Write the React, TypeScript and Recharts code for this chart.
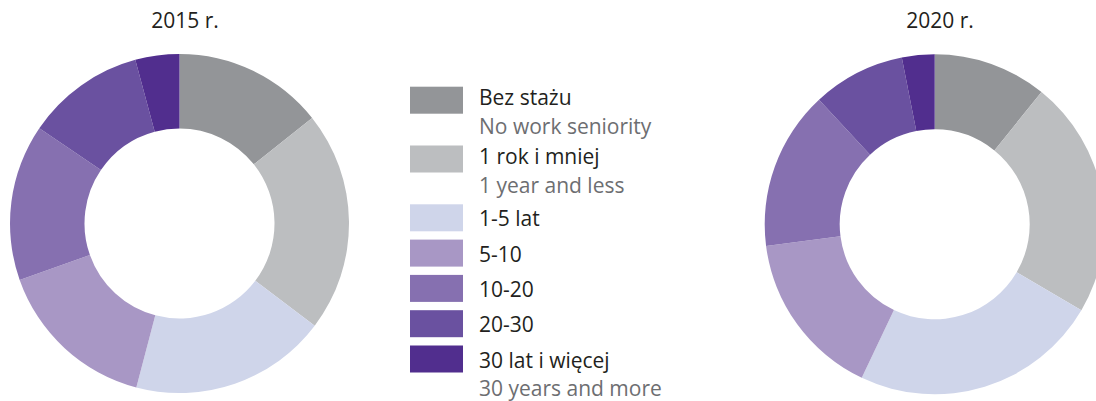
import { PieChart, Pie, Cell } from 'recharts';

const categories = ['Bez stażu', '1 rok i mniej', '1-5 lat', '5-10', '10-20', '20-30', '30 lat i więcej'];
const categoriesEn = ['No work seniority', '1 year and less', '', '', '', '', '30 years and more'];
const values2015 = [14.3, 21.0, 18.8, 15.5, 14.9, 11.3, 4.2];
const values2020 = [10.8, 22.6, 23.6, 15.9, 15.1, 8.8, 3.1];
const colors = ['#939598', '#bcbec0', '#cfd5ea', '#a897c5', '#8670b0', '#6a51a0', '#512e8e'];
const titles = ['2015 r.', '2020 r.'];

const W = 1096;
const H = 401;
const font = '"Open Sans", sans-serif';

const data2015 = categories.map((name, i) => ({ name, value: values2015[i] }));
const data2020 = categories.map((name, i) => ({ name, value: values2020[i] }));

// legend rows: taller when there is an english line under the polish one
let y = 86.7;
const legendRows = categories.map((name, i) => {
  const row = { name, en: categoriesEn[i], color: colors[i], top: y, base: y + (i < 2 ? 18.5 : 22) };
  y += categoriesEn[i] ? 58.8 : 35.3;
  return row;
});

export default function App() {
  return (
    <div style={{ position: 'absolute', left: 0, top: 0, width: W, height: H, background: '#fff', overflow: 'hidden' }}>
      <PieChart width={W} height={H} margin={{ top: 0, right: 0, bottom: 0, left: 0 }}>
        <Pie
          data={data2015} dataKey="value" nameKey="name"
          cx={179.5} cy={223.5} innerRadius={95} outerRadius={169.5}
          startAngle={90} endAngle={-270}
          stroke="none" isAnimationActive={false}
        >
          {data2015.map((d, i) => <Cell key={d.name} fill={colors[i]} />)}
        </Pie>
        <Pie
          data={data2020} dataKey="value" nameKey="name"
          cx={934.7} cy={224.3} innerRadius={95} outerRadius={170}
          startAngle={90} endAngle={-270}
          stroke="none" isAnimationActive={false}
        >
          {data2020.map((d, i) => <Cell key={d.name} fill={colors[i]} />)}
        </Pie>
      </PieChart>
      <svg width={W} height={H} style={{ position: 'absolute', left: 0, top: 0 }}>
        <text x={185} y={28} textAnchor="middle" fontFamily={font} fontSize={21} fill="#231f20">{titles[0]}</text>
        <text x={940} y={28} textAnchor="middle" fontFamily={font} fontSize={21} fill="#231f20">{titles[1]}</text>
        {legendRows.map(r => (
          <g key={r.name}>
            <rect x={410} y={r.top} width={53} height={27} fill={r.color} />
            <text x={479} y={r.base} fontFamily={font} fontSize={21} fill="#231f20">{r.name}</text>
            {r.en && (
              <text x={479} y={r.base + 28.5} fontFamily={font} fontSize={21} fill="#6d6e71">{r.en}</text>
            )}
          </g>
        ))}
      </svg>
    </div>
  );
}
